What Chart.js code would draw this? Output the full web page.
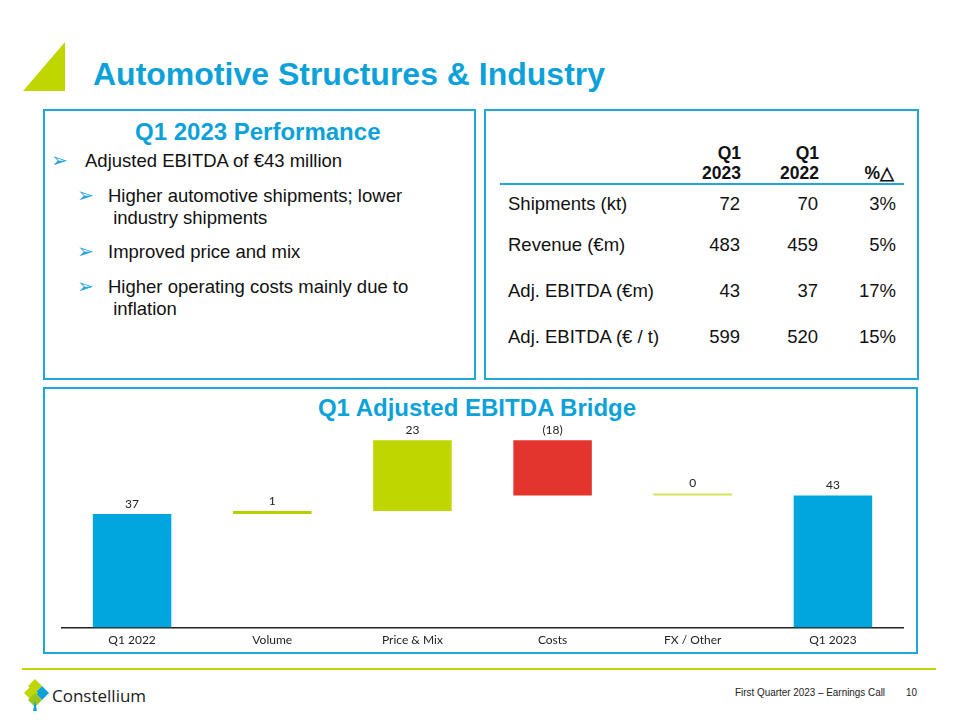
<!DOCTYPE html>
<html>
<head>
<meta charset="utf-8">
<script src="https://cdn.jsdelivr.net/npm/chart.js@4.4.0/dist/chart.umd.min.js"></script>
<style>
  body { margin:0; width:960px; height:720px; background:#fff; font-family:"Liberation Sans", Arial, sans-serif; position:relative; overflow:hidden; }
  .abs { position:absolute; }
  .box { position:absolute; border:2.5px solid #1ea7db; box-sizing:border-box; }
  .title { left:93px; top:56px; font-size:32px; font-weight:bold; color:#0ca2d9; white-space:nowrap; }
  .subtitle { font-weight:bold; color:#0ca2d9; font-size:24px; white-space:nowrap; }
  .txt { font-size:18.5px; color:#111; white-space:nowrap; line-height:22px; }
  .arrow { color:#2aa6dc; font-size:20px; }
  table { border-collapse:collapse; font-size:18.5px; color:#111; }
  .foot { font-size:11.5px; color:#222; white-space:nowrap; transform-origin:left top; transform:scaleX(0.86); }
</style>
</head>
<body>
<svg class="abs" style="left:0;top:0" width="960" height="100">
  <polygon points="23,91 65,91 65,42" fill="#bfd600"/>
</svg>
<div class="abs title">Automotive Structures &amp; Industry</div>

<div class="box" style="left:43px;top:109px;width:433px;height:271px"></div>
<div class="box" style="left:484px;top:109px;width:435px;height:271px"></div>
<div class="box" style="left:43px;top:387px;width:875px;height:267px"></div>

<div class="abs subtitle" style="left:135px;top:118px">Q1 2023 Performance</div>
<div class="abs arrow" style="left:51px;top:148px">➢</div>
<div class="abs txt" style="left:85px;top:150px">Adjusted EBITDA of €43 million</div>
<div class="abs arrow" style="left:77px;top:183px">➢</div>
<div class="abs txt" style="left:108px;top:185px">Higher automotive shipments; lower<br>&nbsp;industry shipments</div>
<div class="abs arrow" style="left:77px;top:239px">➢</div>
<div class="abs txt" style="left:108px;top:241px">Improved price and mix</div>
<div class="abs arrow" style="left:77px;top:274px">➢</div>
<div class="abs txt" style="left:108px;top:276px">Higher operating costs mainly due to<br>&nbsp;inflation</div>

<div id="tbl" class="abs" style="left:500px;top:142px;width:404px"></div>

<div class="abs subtitle" style="left:0;width:960px;text-align:center;top:394px;padding-right:6px;box-sizing:border-box">Q1 Adjusted EBITDA Bridge</div>

<div class="abs" style="left:44px;top:417px;width:873px;height:235px">
  <canvas id="chart" width="873" height="235"></canvas>
</div>

<div class="abs" style="left:22px;top:668px;width:914px;height:1.5px;background:#bfd600"></div>
<svg class="abs" style="left:24px;top:678px" width="30" height="36">
  <polygon points="11,1 18,8 11,15 4,8" fill="#bfd600"/>
  <polygon points="18,8 25,15 18,22 11,15" fill="#0ca2d9"/>
  <polygon points="7,8 14,15 7,22 0,15" fill="#bfd600"/>
  <polygon points="11,15 18,22 11,29 4,22" fill="#9cc21c"/>
  <polygon points="11,22 13,33 9,33" fill="#0ca2d9"/>
</svg>
<div class="abs" style="left:52px;top:684px;font-family:'Open Sans',sans-serif;font-size:17px;color:#1a1a1a">Constellium</div>
<div class="abs foot" style="left:735px;top:686px">First Quarter 2023 – Earnings Call</div>
<div class="abs foot" style="left:906px;top:686px">10</div>

<script>
// table data
const tableCols = ['Q1<br>2023', 'Q1<br>2022', '%△'];
const tableRows = ['Shipments (kt)', 'Revenue (€m)', 'Adj. EBITDA (€m)', 'Adj. EBITDA (€ / t)'];
const q1_2023 = ['72', '483', '43', '599'];
const q1_2022 = ['70', '459', '37', '520'];
const pctChange = ['3%', '5%', '17%', '15%'];

let html = '<table style="width:404px;table-layout:fixed">';
html += '<colgroup><col style="width:170px"><col style="width:71px"><col style="width:78px"><col style="width:85px"></colgroup>';
html += '<tr style="height:38px;border-bottom:2px solid #1ea7db"><td></td>';
for (let i = 0; i < tableCols.length; i++) {
  html += '<td style="text-align:right;font-weight:bold;font-size:17.5px;line-height:20px;vertical-align:bottom;padding-bottom:0px;padding-right:' + (i == 2 ? 10 : 0) + 'px">' + tableCols[i] + '</td>';
}
html += '</tr>';
for (let i = 0; i < tableRows.length; i++) {
  let h = i == 0 ? 38 : 46;
  html += '<tr style="height:' + h + 'px"><td style="padding-left:8px">' + tableRows[i] + '</td>';
  html += '<td style="text-align:right">' + q1_2023[i] + '</td>';
  html += '<td style="text-align:right">' + q1_2022[i] + '</td>';
  html += '<td style="text-align:right;padding-right:8px">' + pctChange[i] + '</td></tr>';
}
html += '</table>';
document.getElementById('tbl').innerHTML = html;

// bridge data
const categories = ['Q1 2022', 'Volume', 'Price & Mix', 'Costs', 'FX / Other', 'Q1 2023'];
const values = [37, 1, 23, -18, 0, 43];
const isTotal = [true, false, false, false, false, true];
const valueLabels = ['37', '1', '23', '(18)', '0', '43'];
const barColors = ['#00a6dd', '#b5cf00', '#bfd600', '#e3342d', '#d6e45a', '#00a6dd'];

let ranges = [];
let running = 0;
for (let i = 0; i < values.length; i++) {
  if (isTotal[i]) {
    ranges.push([0, values[i]]);
    running = values[i];
  } else {
    ranges.push([running, running + values[i]]);
    running = running + values[i];
  }
}

const valueLabelPlugin = {
  id: 'valueLabels',
  afterDatasetsDraw(chart) {
    const ctx = chart.ctx;
    const meta = chart.getDatasetMeta(0);
    ctx.save();
    ctx.font = '12px Lato, "Open Sans", sans-serif';
    ctx.fillStyle = '#222';
    ctx.textAlign = 'center';
    ctx.textBaseline = 'bottom';
    meta.data.forEach(function(bar, i) {
      let top = Math.min(bar.y, bar.base);
      ctx.fillText(valueLabels[i], bar.x, top - 4);
    });
    ctx.restore();
  }
};

new Chart(document.getElementById('chart'), {
  type: 'bar',
  data: {
    labels: categories,
    datasets: [{
      data: ranges,
      backgroundColor: barColors,
      borderWidth: 0,
      minBarLength: 2,
      barPercentage: 0.56,
      categoryPercentage: 1
    }]
  },
  options: {
    responsive: false,
    animation: false,
    layout: { padding: { left: 18, right: 14, top: 11, bottom: 0 } },
    plugins: { legend: { display: false }, tooltip: { enabled: false } },
    scales: {
      x: {
        grid: { display: false, drawTicks: false },
        border: { display: true, color: '#222', width: 1.5 },
        ticks: { color: '#222', font: { family: 'Lato, "Open Sans", sans-serif', size: 12 }, padding: 5 }
      },
      y: { display: false, min: 0, max: 65 }
    }
  },
  plugins: [valueLabelPlugin]
});
</script>
</body>
</html>
